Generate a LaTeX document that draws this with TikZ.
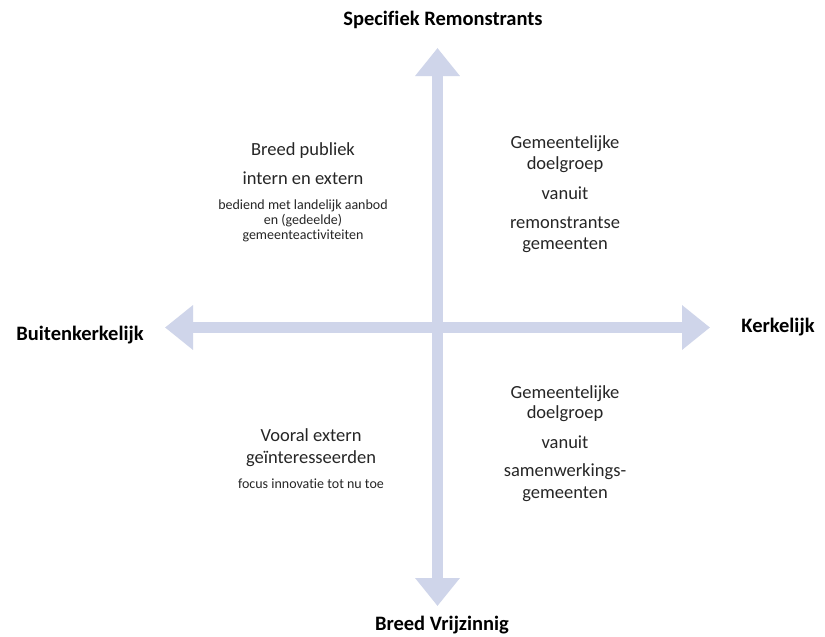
\documentclass[tikz,border=0pt]{standalone}
\usepackage{fontspec}
\setmainfont{Carlito}[Ligatures=NoCommon]
\usetikzlibrary{arrows.meta}
\definecolor{axiscol}{RGB}{207,213,234}
\definecolor{txtcol}{RGB}{38,38,38}
\begin{document}
\begin{tikzpicture}[x=1pt,y=-1pt,
  axis/.style={draw=axiscol,line width=11pt,
    {Triangle[width=43pt,length=28pt]}-{Triangle[width=43pt,length=28pt]}},
  axlabel/.style={anchor=base,font=\fontsize{20.5}{24}\selectfont\bfseries,text=black,inner sep=0pt},
  big/.style={anchor=base,font=\fontsize{18.5}{21}\selectfont,text=txtcol,inner sep=0pt,align=center},
  small/.style={anchor=base,font=\fontsize{14}{15}\selectfont,text=txtcol,inner sep=0pt,align=center}]
\useasboundingbox (0,0) rectangle (825,637);
\fill[white] (0,0) rectangle (825,637);
% axes
\coordinate (top) at (437.5,48);
\coordinate (bot) at (437.5,606);
\coordinate (lft) at (165,327.5);
\coordinate (rgt) at (710,327.5);
\draw[axis] (lft) -- (rgt);
\draw[axis] (top) -- (bot);
% axis labels
\node[axlabel] (lSpec) at (443,25) {Specifiek Remonstrants};
\node[axlabel] (lBreed) at (442,630) {Breed Vrijzinnig};
\node[axlabel] (lBuiten) at (80,340) {Buitenkerkelijk};
\node[axlabel] (lKerk) at (778,332) {Kerkelijk};
% top left
\node[big] (tl1) at (303,155) {Breed publiek};
\node[big] (tl2) at (303,184) {intern en extern};
\node[small] (tl3) at (303,209) {bediend met landelijk aanbod};
\node[small] (tl4) at (303,224) {en (gedeelde)};
\node[small] (tl5) at (303,239) {gemeenteactiviteiten};
% top right
\node[big] (tr1) at (565,148) {Gemeentelijke};
\node[big] (tr2) at (565,169) {doelgroep};
\node[big] (tr3) at (565,199) {vanuit};
\node[big] (tr4) at (565,228) {remonstrantse};
\node[big] (tr5) at (565,249) {gemeenten};
% bottom right
\node[big] (br1) at (565,398) {Gemeentelijke};
\node[big] (br2) at (565,418) {doelgroep};
\node[big] (br3) at (565,448) {vanuit};
\node[big] (br4) at (565,476) {samenwerkings-};
\node[big] (br5) at (565,498) {gemeenten};
% bottom left
\node[big] (bl1) at (311,441) {Vooral extern};
\node[big] (bl2) at (311,463) {geïnteresseerden};
\node[small] (bl3) at (311,488) {focus innovatie tot nu toe};
\end{tikzpicture}
\end{document}
